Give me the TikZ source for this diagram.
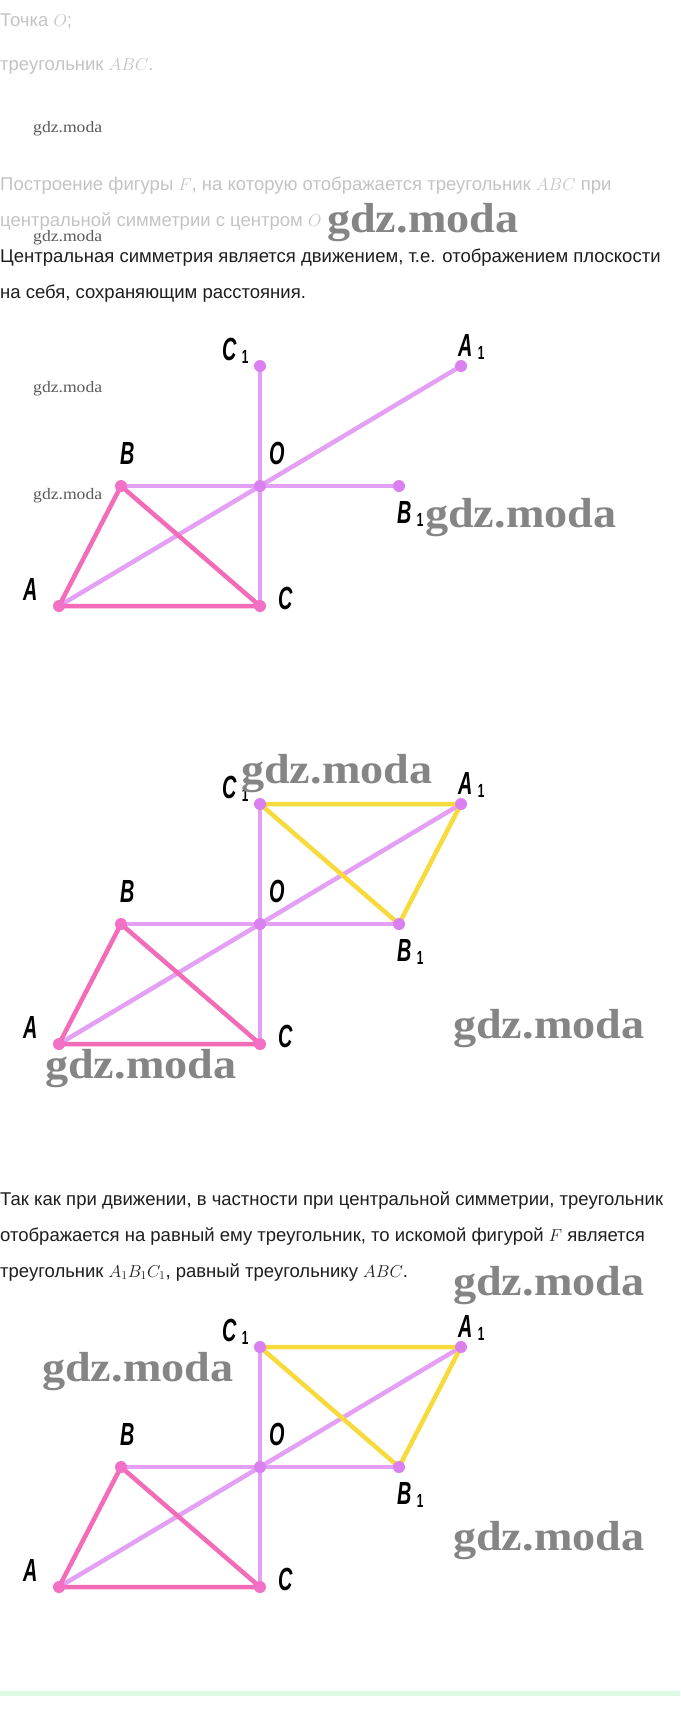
\documentclass[tikz,border=0pt]{standalone}
\usepackage{fontspec}
\setmainfont{Liberation Sans}
\newfontfamily\ptfont[FakeStretch=0.62]{Liberation Sans}
\newfontfamily\wmfont[FakeStretch=1.1]{Liberation Serif}

\definecolor{segviolet}{HTML}{E3A0F5}
\definecolor{dotviolet}{HTML}{DA80F0}
\definecolor{segpink}{HTML}{F26CB8}
\definecolor{dotpink}{HTML}{F270C6}
\definecolor{segyellow}{HTML}{F7DA3C}
\definecolor{txtgrey}{HTML}{C4C4C4}
\definecolor{txtblack}{HTML}{1E1E1E}
\definecolor{wmdark}{HTML}{5A5A5A}
\definecolor{wmgrey}{HTML}{858585}
\definecolor{rulegreen}{HTML}{DDFBE4}

\newcommand{\subone}{\,\raisebox{-3pt}{\upshape\fontsize{19}{19}\selectfont 1}}

\tikzset{
  dotv/.style={circle,fill=dotviolet,inner sep=0pt,minimum size=12pt},
  dotp/.style={dotv,fill=dotpink},
  segv/.style={draw=segviolet,line width=4.5pt,line join=round},
  segp/.style={draw=segpink,line width=4.5pt,line join=round},
  segy/.style={draw=segyellow,line width=4.5pt,line join=round},
  ptlabel/.style={font={\ptfont\bfseries\itshape\fontsize{32}{32}\selectfont},inner sep=0pt,text height=23pt,text depth=0pt,anchor=west},
  txt/.style={font={\fontsize{18.5}{22}\selectfont},inner sep=0pt,anchor=base west},
  wmsmall/.style={font={\wmfont\fontsize{16}{16}\selectfont},text=wmdark,inner sep=0pt,anchor=base west},
  wmbig/.style={font={\wmfont\bfseries\fontsize{42}{42}\selectfont},text=wmgrey,inner sep=0pt,anchor=base west}
}

\begin{document}
\begin{tikzpicture}[x=1pt,y=-1pt]
  \useasboundingbox (0,0) rectangle (680,1732);
  \fill[white] (0,0) rectangle (680,1732);

  % given and task
  \node[txt,text=txtgrey] (given1) at (0,26) {Точка $O$;};
  \node[txt,text=txtgrey] (given2) at (0,70) {треугольник $ABC$.};
  \node[txt,text=txtgrey] (task1) at (0,190) {Построение фигуры $F$, на которую отображается треугольник $ABC$ при};
  \node[txt,text=txtgrey] (task2) at (0,226) {центральной симметрии с центром $O$};
  \node[txt,text=txtblack] (sol1) at (0,262) {Центральная симметрия является движением, т.е. отображением плоскости};
  \node[txt,text=txtblack] (sol2) at (0,298) {на себя, сохраняющим расстояния.};
  \node[txt,text=txtblack] (res1) at (0,1205) {Так как при движении, в частности при центральной симметрии, треугольник};
  \node[txt,text=txtblack] (res2) at (0,1241) {отображается на равный ему треугольник, то искомой фигурой $F$ является};
  \node[txt,text=txtblack] (res3) at (0,1277) {треугольник $A_1B_1C_1$, равный треугольнику $ABC$.};

  % the three figures
  \foreach \dy/\fig in {0/1,438/2,981/3}{
    \begin{scope}[shift={(0,\dy)},name prefix=fig\fig-]
      \coordinate (O) at (260,486);
      \coordinate (A) at (59,606);
      \coordinate (B) at (121,486);
      \coordinate (C) at (260,606);
      \coordinate (A1) at (461,366);
      \coordinate (B1) at (399,486);
      \coordinate (C1) at (260,366);
      \draw[segv] (B) -- (B1);
      \draw[segv] (C) -- (C1);
      \draw[segv] (A) -- (A1);
      \draw[segp] (A) -- (B) -- (C) -- cycle;
      \ifnum\fig>1
        \draw[segy] (A1) -- (B1) -- (C1) -- cycle;
      \fi
      \foreach \p in {O,A1,B1,C1}
        \node[dotv] (dot\p) at (\p) {};
      \foreach \p in {A,B,C}
        \node[dotp] (dot\p) at (\p) {};
      \node[ptlabel,xshift=-38pt,yshift=17pt] (labC1) at (C1) {C\subone};
      \node[ptlabel,xshift=-3pt,yshift=21pt] (labA1) at (A1) {A\subone};
      \node[ptlabel,xshift=-1pt,yshift=33pt] (labB) at (B) {B};
      \node[ptlabel,xshift=9pt,yshift=33pt] (labO) at (O) {O};
      \node[ptlabel,xshift=-2pt,yshift=-26pt] (labB1) at (B1) {B\subone};
      \node[ptlabel,xshift=-36pt,yshift=17pt] (labA) at (A) {A};
      \node[ptlabel,xshift=18pt,yshift=8pt] (labC) at (C) {C};
    \end{scope}
  }

  % watermarks
  \node[wmsmall] (wm1) at (33,132) {gdz.moda};
  \node[wmsmall] (wm2) at (33,241) {gdz.moda};
  \node[wmsmall] (wm3) at (33,392) {gdz.moda};
  \node[wmsmall] (wm4) at (33,499) {gdz.moda};
  \node[wmbig] (wm5) at (327,232) {gdz.moda};
  \node[wmbig] (wm6) at (425,527) {gdz.moda};
  \node[wmbig] (wm7) at (241,783) {gdz.moda};
  \node[wmbig] (wm8) at (453,1038) {gdz.moda};
  \node[wmbig] (wm9) at (45,1078) {gdz.moda};
  \node[wmbig] (wm10) at (453,1295) {gdz.moda};
  \node[wmbig] (wm11) at (42,1381) {gdz.moda};
  \node[wmbig] (wm12) at (453,1550) {gdz.moda};

  \draw[rulegreen,line width=5pt] (0,1693) -- (680,1693);
\end{tikzpicture}
\end{document}
